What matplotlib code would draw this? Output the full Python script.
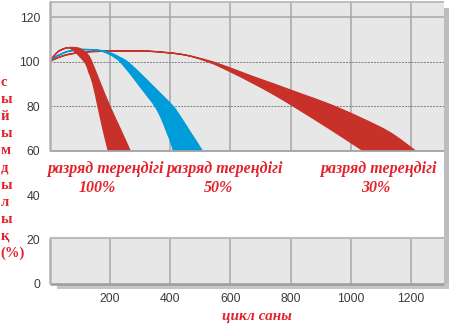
import matplotlib
matplotlib.use("Agg")
import matplotlib.pyplot as plt
from matplotlib.patches import Rectangle, PathPatch
from matplotlib.path import Path

# Remaining capacity (%) versus number of cycles; each band is bounded by two edges.
d100_left_cycles = [0, 15, 28, 45, 61, 71, 88, 101, 113, 123, 131, 144, 161, 177, 195]
d100_left_capacity = [100, 102.5, 104.4, 105.6, 106.2, 105.8, 104.0, 102.2, 100.4, 98.3, 95.1, 90.1,
                      79.8, 69.9, 60]
d100_right_cycles = [0, 15, 28, 45, 61, 75, 88, 101, 114, 128, 140, 171, 201, 234, 267]
d100_right_capacity = [100, 102.5, 104.4, 105.6, 106.2, 106.3, 106.2, 105.8, 104.7, 102.9, 99.9, 89.4,
                       79.6, 69.9, 60]

d50_left_cycles = [0, 18, 35, 55, 75, 91, 118, 158, 181, 201, 217, 234, 270, 303, 330, 353, 373, 390, 403, 411]
d50_left_capacity = [100, 102.0, 103.1, 104.3, 104.9, 105.3, 105.4, 105.1, 104.3, 103.1, 101.8, 100,
                     94.2, 88.3, 83.6, 79.3, 73.9, 68.1, 63.6, 60]
d50_right_cycles = [0, 18, 35, 55, 75, 91, 118, 158, 181, 207, 234, 257, 294, 333, 373, 410, 436, 459, 483, 506]
d50_right_capacity = [100, 102.0, 103.1, 104.3, 104.9, 105.3, 105.4, 105.1, 104.7, 103.6, 101.8, 100,
                      95.5, 90.3, 84.9, 79.8, 74.8, 69.9, 64.9, 60]

d30_upper_cycles = [0, 35, 78, 145, 250, 333, 443, 532, 599, 665, 748, 831, 930, 1030, 1129, 1212]
d30_upper_capacity = [100, 102.1, 103.6, 104.5, 104.7, 104.6, 103.1, 100.2, 97.1, 93.7, 89.7, 85.6,
                      80.7, 74.8, 68.1, 60]
d30_lower_cycles = [0, 35, 78, 145, 250, 333, 443, 532, 599, 665, 748, 831, 930, 1040]
d30_lower_capacity = [100, 102.1, 103.6, 104.5, 104.7, 104.6, 103.1, 99.6, 95.5, 91.0, 84.9, 78.1, 69.7, 60]

x_ticks = [200, 400, 600, 800, 1000, 1200]
y_ticks = [0, 20, 40, 60, 80, 100, 120]

depth_title = "разряд тереңдігі"
depth_values = ["100%", "50%", "30%"]
ylabel_chars = ["с", "ы", "й", "ы", "м", "д", "ы", "л", "ы", "қ", "(%)"]
xlabel_text = "цикл саны"

RED = "#c8302a"
BLUE = "#009bd9"
LABEL_RED = "#e3222b"
PANEL = "#e7e7e7"
GRID = "#a6a6a6"

W, H = 449, 328
X_MAX, Y_MAX = 1307, 127.2
UPPER_BOTTOM, LOWER_TOP = 60, 20.7

fig = plt.figure(figsize=(W / 100, H / 100), dpi=100)
fig.patch.set_facecolor("white")
ax = fig.add_axes([49.5 / W, (H - 284) / H, 394 / W, 283 / H])
ax.set_xlim(0, X_MAX)
ax.set_ylim(0, Y_MAX)
ax.set_facecolor("white")
for s in ax.spines.values():
    s.set_visible(False)


def fpos(px, py):
    return px / W, 1 - py / H


# gray panels (upper: 60..top, lower: 0..~21) with a soft drop shadow
upper_panel = Rectangle((0, UPPER_BOTTOM), X_MAX, Y_MAX - UPPER_BOTTOM, fc=PANEL, ec="none", zorder=0)
ax.add_patch(upper_panel)
ax.add_patch(Rectangle((0, 0), X_MAX, LOWER_TOP, fc=PANEL, ec="none", zorder=0))
ax.add_patch(Rectangle((X_MAX + 2, -1.6), 15, 125.6, fc="#bdbdbd", ec="none", zorder=0, clip_on=False))
ax.add_patch(Rectangle((25, -2.2), X_MAX - 8, 2.2, fc="#c6c6c6", ec="none", zorder=0, clip_on=False))

# grid
ax.vlines(x_ticks, UPPER_BOTTOM, Y_MAX, colors=GRID, lw=1.1, zorder=1)
ax.vlines(x_ticks, 0, LOWER_TOP, colors=GRID, lw=1.1, zorder=1)
ax.hlines(120, 0, X_MAX, colors=GRID, lw=1.1, zorder=1)
ax.hlines([100, 80], 0, X_MAX, colors="#7c7c7c", lw=0.7, linestyles=(0, (2.0, 1.2)), zorder=1)

# panel borders
ax.hlines(Y_MAX - 0.3, 0, X_MAX, colors="#bcbcbc", lw=1.4, zorder=4, clip_on=False)
ax.hlines(UPPER_BOTTOM, 0, X_MAX, colors="#a2a2a2", lw=1.3, zorder=4, clip_on=False)
ax.hlines(LOWER_TOP, 0, X_MAX, colors="#bcbcbc", lw=1.5, zorder=4, clip_on=False)
ax.hlines(0, 0, X_MAX, colors="#9c9c9c", lw=1.8, zorder=4, clip_on=False)
ax.vlines(0, UPPER_BOTTOM, Y_MAX, colors="#b2b2b2", lw=1.8, zorder=4, clip_on=False)
ax.vlines(0, 0, LOWER_TOP, colors="#b2b2b2", lw=1.8, zorder=4, clip_on=False)


def smooth_segments(xs, ys):
    """Cubic Bezier control points for a Catmull-Rom curve through the given points."""
    pts = list(zip(xs, ys))
    verts = []
    n = len(pts)
    for i in range(n - 1):
        p0 = pts[i - 1] if i > 0 else pts[i]
        p1, p2 = pts[i], pts[i + 1]
        p3 = pts[i + 2] if i + 2 < n else pts[i + 1]
        c1 = (p1[0] + (p2[0] - p0[0]) / 6, p1[1] + (p2[1] - p0[1]) / 6)
        c2 = (p2[0] - (p3[0] - p1[0]) / 6, p2[1] - (p3[1] - p1[1]) / 6)
        verts += [c1, c2, p2]
    return verts


def band(xa, ya, xb, yb, color):
    verts = [(xa[0], ya[0])]
    codes = [Path.MOVETO]
    seg = smooth_segments(xa, ya)
    verts += seg
    codes += [Path.CURVE4] * len(seg)
    verts.append((xb[-1], yb[-1]))
    codes.append(Path.LINETO)
    seg = smooth_segments(list(xb)[::-1], list(yb)[::-1])
    verts += seg
    codes += [Path.CURVE4] * len(seg)
    verts.append((xa[0], ya[0]))
    codes.append(Path.CLOSEPOLY)
    patch = PathPatch(Path(verts, codes), facecolor=color, edgecolor=color, lw=1.0, zorder=3)
    ax.add_patch(patch)
    patch.set_clip_path(upper_panel)


band(d30_upper_cycles, d30_upper_capacity, d30_lower_cycles, d30_lower_capacity, RED)
band(d50_left_cycles, d50_left_capacity, d50_right_cycles, d50_right_capacity, BLUE)
band(d100_left_cycles, d100_left_capacity, d100_right_cycles, d100_right_capacity, RED)

# ticks
ax.set_xticks(x_ticks)
ax.set_yticks(y_ticks)
ax.tick_params(length=0, labelsize=8.8, labelcolor="#3c3c3c")
ax.tick_params(axis="y", pad=6.8)
ax.tick_params(axis="x", pad=6.6)
for lab in ax.get_xticklabels() + ax.get_yticklabels():
    lab.set_family(["Liberation Sans", "DejaVu Sans"])

serif = ["Liberation Serif", "DejaVu Serif"]

# band captions
for cx, vx, val in zip([105, 224, 378], [97, 218, 376], depth_values):
    fig.text(*fpos(cx, 173), depth_title, ha="center", va="baseline", color=LABEL_RED,
             fontsize=11.5, fontweight="bold", fontstyle="italic", family=serif)
    fig.text(*fpos(vx, 191.5), val, ha="center", va="baseline", color=LABEL_RED,
             fontsize=11.5, fontweight="bold", fontstyle="italic", family=serif)

# stacked y-axis caption
for i, ch in enumerate(ylabel_chars):
    fig.text(*fpos(0.5, 86 + 17.1 * i), ch, ha="left", va="baseline", color=LABEL_RED,
             fontsize=10.5, fontweight="bold", family=serif)

# x-axis caption
fig.text(*fpos(257, 320), xlabel_text, ha="center", va="baseline", color=LABEL_RED,
         fontsize=11, fontweight="bold", fontstyle="italic", family=serif)

fig.savefig("out.png", dpi=100, facecolor="white")
